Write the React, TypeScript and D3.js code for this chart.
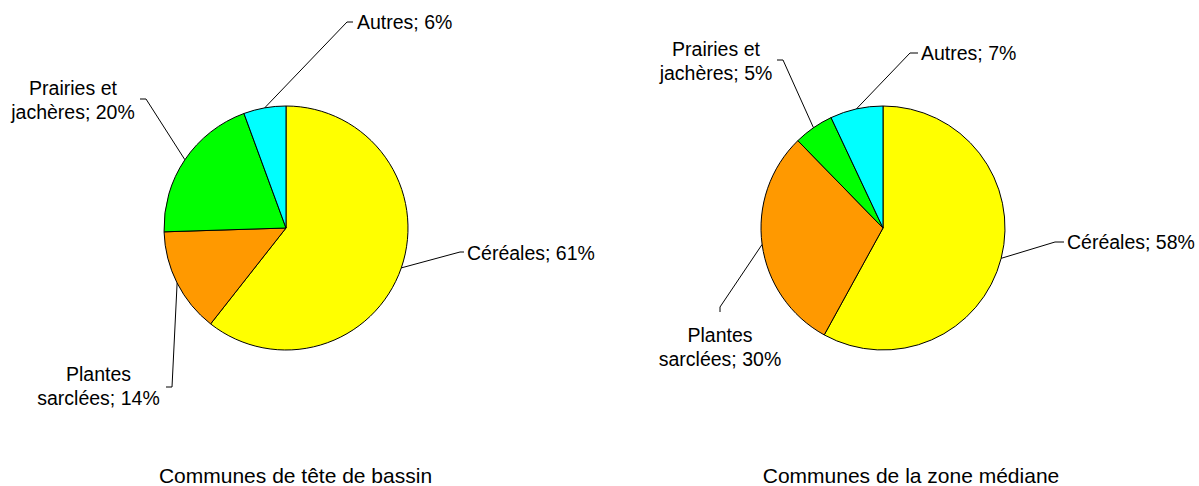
import React from "react";
import * as d3 from "d3";

const categories = ["Céréales", "Plantes sarclées", "Prairies et jachères", "Autres"];
const labelLines = [["Céréales"], ["Plantes", "sarclées"], ["Prairies et", "jachères"], ["Autres"]];
const teteValues = [60.6, 13.9, 19.9, 5.6];
const medianeValues = [58.0, 29.7, 5.3, 7.0];
const titles = ["Communes de tête de bassin", "Communes de la zone médiane"];
const colors = ["#FFFF00", "#FF9900", "#00FF00", "#00FFFF"];

const W = 1199;
const H = 486;
const R = 122;
const FONT = "'Liberation Sans', Arial, Helvetica, sans-serif";
const LABEL_FS = 19.5;
const TITLE_FS = 21;
const LINE_GAP = 24;

type LabelLayout = { elbow: [number, number]; end: [number, number]; tx: number; ty: number; anchor: "start" | "middle" | "end" };

const pieLayouts: { cx: number; cy: number; titleX: number; titleY: number; labels: LabelLayout[] }[] = [
  {
    cx: 286, cy: 228, titleX: 295.5, titleY: 475,
    labels: [
      { elbow: [460, 252], end: [464, 252], tx: 467, ty: 253.5, anchor: "start" },
      { elbow: [172, 387], end: [166, 387], tx: 98.5, ty: 386, anchor: "middle" },
      { elbow: [146, 99], end: [140, 99], tx: 73, ty: 100, anchor: "middle" },
      { elbow: [347, 22], end: [353, 22], tx: 357, ty: 22, anchor: "start" },
    ],
  },
  {
    cx: 883, cy: 228, titleX: 911, titleY: 475,
    labels: [
      { elbow: [1055, 242], end: [1064, 242], tx: 1067, ty: 242, anchor: "start" },
      { elbow: [720, 307], end: [720, 312], tx: 720, ty: 347.5, anchor: "middle" },
      { elbow: [783, 60], end: [777, 60], tx: 716, ty: 61, anchor: "middle" },
      { elbow: [910, 53], end: [918, 53], tx: 921, ty: 53, anchor: "start" },
    ],
  },
];

const datasets = [teteValues, medianeValues];

function PieChart({ values, idx }: { values: number[]; idx: number }) {
  const layout = pieLayouts[idx];
  const pie = d3.pie<number>().sort(null).value((d) => d);
  const arcs = pie(values);
  const arc = d3.arc<d3.PieArcDatum<number>>().innerRadius(0).outerRadius(R);
  const total = d3.sum(values);
  return (
    <g>
      <g transform={`translate(${layout.cx},${layout.cy})`}>
        {arcs.map((a, i) => (
          <path key={i} d={arc(a) || ""} fill={colors[i]} stroke="#000" strokeWidth={1} strokeLinejoin="round" />
        ))}
      </g>
      {arcs.map((a, i) => {
        const mid = (a.startAngle + a.endAngle) / 2;
        const px = layout.cx + R * Math.sin(mid);
        const py = layout.cy - R * Math.cos(mid);
        const L = layout.labels[i];
        const pct = Math.round((values[i] / total) * 100);
        const lines = labelLines[i].slice();
        lines[lines.length - 1] = `${lines[lines.length - 1]}; ${pct}%`;
        const n = lines.length;
        return (
          <g key={`l${i}`}>
            <polyline
              points={`${px},${py} ${L.elbow[0]},${L.elbow[1]} ${L.end[0]},${L.end[1]}`}
              fill="none"
              stroke="#000"
              strokeWidth={1}
            />
            <text
              fontFamily={FONT}
              fontSize={LABEL_FS}
              fill="#000"
              textAnchor={L.anchor}
              aria-label={categories[i]}
            >
              {lines.map((ln, k) => (
                <tspan key={k} x={L.tx} y={L.ty + (k - (n - 1) / 2) * LINE_GAP + 0.358 * LABEL_FS}>
                  {ln}
                </tspan>
              ))}
            </text>
          </g>
        );
      })}
      <text
        x={layout.titleX}
        y={layout.titleY + 0.358 * TITLE_FS}
        fontFamily={FONT}
        fontSize={TITLE_FS}
        textAnchor="middle"
        fill="#000"
      >
        {titles[idx]}
      </text>
    </g>
  );
}

export default function App() {
  return (
    <svg
      width={W}
      height={H}
      viewBox={`0 0 ${W} ${H}`}
      style={{ position: "absolute", left: 0, top: 0, display: "block", background: "#fff" }}
    >
      <rect x={0} y={0} width={W} height={H} fill="#fff" />
      {datasets.map((v, i) => (
        <PieChart key={i} values={v} idx={i} />
      ))}
    </svg>
  );
}
